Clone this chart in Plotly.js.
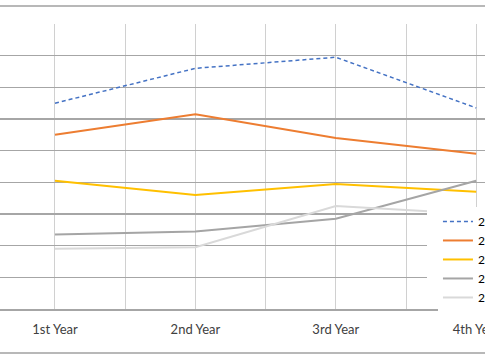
<!DOCTYPE html>
<html>
<head>
<meta charset="utf-8">
<script src="https://cdn.plot.ly/plotly-3.0.1.min.js"></script>
<style>html,body{margin:0;padding:0;background:#fff;overflow:hidden}#chart{width:485px;height:360px}</style>
</head>
<body>
<div id="chart"></div>
<script>
const categories = ['1st Year', '2nd Year', '3rd Year', '4th Year'];
const seriesNames = ['2014', '2015', '2016', '2017', '2018'];
const series1 = [6.5, 7.6, 7.95, 6.35];
const series2 = [5.5, 6.15, 5.4, 4.9];
const series3 = [4.05, 3.6, 3.95, 3.7];
const series4 = [2.35, 2.45, 2.85, 4.05];
const series5 = [1.9, 1.95, 3.25, 3.0];

const xIdx = categories.map((_, i) => i);
const styles = [
  {color: '#4472C4', width: 1.5, dash: '4px,3px'},
  {color: '#ED7D31', width: 2},
  {color: '#FFC000', width: 2},
  {color: '#A5A5A5', width: 2},
  {color: '#D9D9D9', width: 2}
];
const allSeries = [series1, series2, series3, series4, series5];
const data = allSeries.map((ys, k) => ({
  type: 'scatter', mode: 'lines', x: xIdx, y: ys, name: seriesNames[k],
  line: styles[k], hoverinfo: 'skip'
}));

const layout = {
  width: 485, height: 360,
  margin: {l: 0, r: 0, t: 24, b: 51, autoexpand: false},
  paper_bgcolor: '#fff', plot_bgcolor: '#fff',
  font: {family: 'Lato, Carlito, "Liberation Sans", sans-serif', size: 13, color: '#404040'},
  showlegend: true,
  legend: {x: 0.903, xanchor: 'left', y: 0.358, yanchor: 'top', bgcolor: '#fff',
           borderwidth: 0, tracegroupgap: 0, font: {size: 12, color: '#000'}},
  xaxis: {
    range: [-0.3917, 3.0627], tickvals: xIdx, ticktext: categories,
    showgrid: true, gridcolor: '#d0d0d0', gridwidth: 1,
    minor: {tickvals: [-0.5, 0.5, 1.5, 2.5], showgrid: true, gridcolor: '#d0d0d0', gridwidth: 1},
    zeroline: false, showline: true, linecolor: '#a6a6a6', linewidth: 1.5,
    ticks: '', ticklabelstandoff: 8, ticklabeloverflow: 'allow', fixedrange: true
  },
  yaxis: {
    range: [0, 9], dtick: 1, showticklabels: false,
    showgrid: true, gridcolor: '#a6a6a6', gridwidth: 1.3,
    zeroline: false, showline: false, fixedrange: true
  },
  shapes: [
    {type: 'line', xref: 'paper', yref: 'paper', x0: 0, x1: 1, y0: 1.063, y1: 1.063, line: {color: '#a0a0a0', width: 1.5}},
    {type: 'line', xref: 'paper', yref: 'paper', x0: 0, x1: 1, y0: -0.154, y1: -0.154, line: {color: '#a0a0a0', width: 1.5}},
    {type: 'rect', xref: 'paper', yref: 'paper', x0: 0.8804, x1: 0.904, y0: 0.006, y1: 0.365, layer: 'above', fillcolor: '#fff', line: {width: 0}}
  ]
};
Plotly.newPlot('chart', data, layout, {staticPlot: true, displayModeBar: false});
</script>
</body>
</html>
